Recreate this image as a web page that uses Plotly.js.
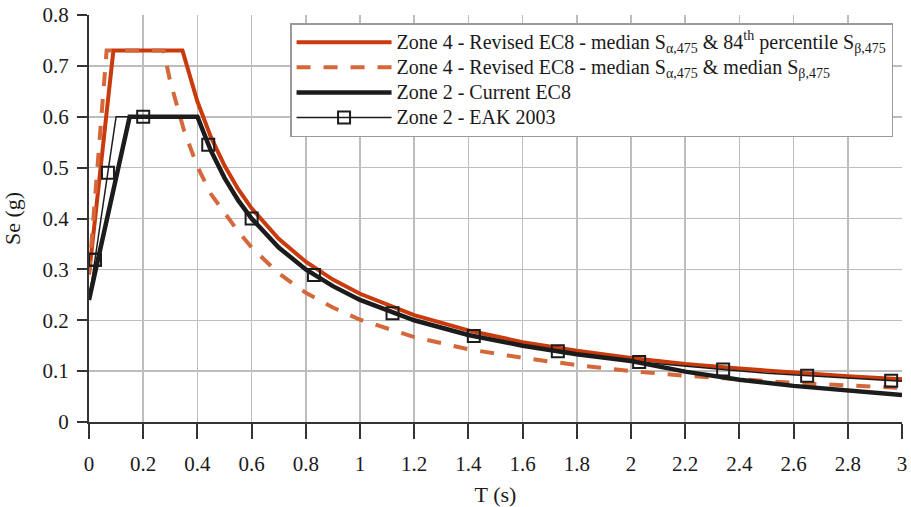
<!DOCTYPE html>
<html>
<head>
<meta charset="utf-8">
<script src="https://cdn.plot.ly/plotly-3.0.1.min.js"></script>
<style>html,body{margin:0;padding:0;background:#fff;}#chart{width:911px;height:507px;}</style>
</head>
<body>
<div id="chart"></div>
<script>
// Zone 4 - Revised EC8 - median S_a & 84th percentile S_b
const redT  = [0, 0.09, 0.345, 0.4, 0.45, 0.5, 0.55, 0.6, 0.7, 0.8, 0.9, 1.0, 1.2, 1.4, 1.6, 1.8, 2.0, 2.2, 2.4, 2.6, 2.8, 3.0];
const redSe = [0.29, 0.73, 0.73, 0.63, 0.56, 0.504, 0.458, 0.42, 0.36, 0.315, 0.28, 0.252, 0.21, 0.18, 0.157, 0.14, 0.126, 0.114, 0.105, 0.097, 0.09, 0.084];
// Zone 4 - Revised EC8 - median S_a & median S_b
const dashT  = [0, 0.065, 0.275, 0.3, 0.35, 0.4, 0.45, 0.5, 0.55, 0.6, 0.7, 0.8, 0.9, 1.0, 1.2, 1.4, 1.6, 1.8, 2.0, 2.2, 2.4, 2.6, 2.8, 3.0];
const dashSe = [0.29, 0.73, 0.73, 0.669, 0.574, 0.502, 0.448, 0.41, 0.375, 0.343, 0.292, 0.254, 0.225, 0.201, 0.167, 0.143, 0.126, 0.112, 0.1, 0.091, 0.084, 0.077, 0.072, 0.067];
// Zone 2 - Current EC8
const ec8T  = [0, 0.15, 0.4, 0.45, 0.5, 0.55, 0.6, 0.7, 0.8, 0.9, 1.0, 1.2, 1.4, 1.6, 1.8, 2.0, 2.2, 2.4, 2.6, 2.8, 3.0];
const ec8Se = [0.24, 0.6, 0.6, 0.533, 0.48, 0.436, 0.4, 0.343, 0.3, 0.267, 0.24, 0.2, 0.171, 0.15, 0.133, 0.12, 0.099, 0.083, 0.071, 0.061, 0.053];
// Zone 2 - EAK 2003 (curve) and the points that carry a square marker
const eakT  = [0, 0.022, 0.07, 0.1, 0.2, 0.4, 0.44, 0.5, 0.6, 0.7, 0.83, 0.9, 1.0, 1.12, 1.2, 1.42, 1.6, 1.73, 1.8, 2.03, 2.2, 2.34, 2.5, 2.65, 2.8, 2.96, 3.0];
const eakSe = [0.24, 0.319, 0.49, 0.6, 0.6, 0.6, 0.545, 0.48, 0.4, 0.343, 0.289, 0.267, 0.24, 0.214, 0.2, 0.169, 0.15, 0.139, 0.133, 0.118, 0.109, 0.103, 0.096, 0.091, 0.086, 0.081, 0.08];
const eakMarked = [0, 1, 1, 0, 1, 0, 1, 0, 1, 0, 1, 0, 0, 1, 0, 1, 0, 1, 0, 1, 0, 1, 0, 1, 0, 1, 0];

const xTicks = [0, 0.2, 0.4, 0.6, 0.8, 1, 1.2, 1.4, 1.6, 1.8, 2, 2.2, 2.4, 2.6, 2.8, 3];
const yTicks = [0, 0.1, 0.2, 0.3, 0.4, 0.5, 0.6, 0.7, 0.8];

const names = [
  'Zone 4 - Revised EC8 - median S<sub>α,475</sub> &amp; 84<sup>th</sup> percentile S<sub>β,475</sub>',
  'Zone 4 - Revised EC8 - median S<sub>α,475</sub> &amp; median S<sub>β,475</sub>',
  'Zone 2 - Current EC8',
  'Zone 2 - EAK 2003'
];

const FONT = 'Liberation Serif';
const INK = '#1c1c1c';
const CLEAR = 'rgba(0,0,0,0)';
const big = s => '<span style="font-size:20px">' + s + '</span>';

// EAK trace: the first marked point is placed first (separated by a gap) so the legend picks its colour
const firstMarked = eakMarked.indexOf(1);
const eakX = [eakT[firstMarked], null].concat(eakT);
const eakY = [eakSe[firstMarked], null].concat(eakSe);
const eakC = [INK, CLEAR].concat(eakMarked.map(m => m ? INK : CLEAR));

const traces = [
  {x: redT, y: redSe, name: big(names[0]), mode: 'lines', line: {color: '#c93a0c', width: 4}},
  {x: dashT, y: dashSe, name: big(names[1]), mode: 'lines', line: {color: '#d4683a', width: 4, dash: '14px,13px'}},
  {x: ec8T, y: ec8Se, name: big(names[2]), mode: 'lines', line: {color: INK, width: 4.5}},
  {x: eakX, y: eakY, name: big(names[3]), mode: 'lines+markers', connectgaps: false, line: {color: INK, width: 1.5},
   marker: {symbol: 'square-open', size: 12, color: eakC, line: {width: 2}}}
];

const layout = {
  width: 911, height: 507,
  margin: {l: 89, r: 9, t: 15, b: 85},
  paper_bgcolor: '#fff', plot_bgcolor: '#fff',
  font: {family: FONT, size: 20, color: '#1a1a1a'},
  showlegend: true,
  legend: {
    x: 0.989, xanchor: 'right', y: 0.980, yanchor: 'top',
    bgcolor: '#fff', bordercolor: '#9a9a9a', borderwidth: 1.5,
    font: {family: FONT, size: 17, color: '#1a1a1a'},
    itemwidth: 95, tracegroupgap: 0
  },
  xaxis: {
    range: [0, 3], tickvals: xTicks, showgrid: true, gridcolor: '#bdbdbd', gridwidth: 1.5,
    zeroline: false, showline: true, linecolor: '#333', linewidth: 2,
    ticks: 'outside', ticklen: 15, tickwidth: 2, tickcolor: '#333', ticklabelstandoff: 7,
    tickfont: {family: FONT, size: 21}, title: {text: 'T (s)', font: {family: FONT, size: 22}, standoff: 12}
  },
  yaxis: {
    range: [0, 0.8], tickvals: yTicks, showgrid: true, gridcolor: '#bdbdbd', gridwidth: 1.5,
    zeroline: false, showline: true, linecolor: '#333', linewidth: 2,
    ticks: 'outside', ticklen: 10, tickwidth: 2, tickcolor: '#333', ticklabelstandoff: 4,
    tickfont: {family: FONT, size: 21}, title: {text: 'Se (g)', font: {family: FONT, size: 22}, standoff: 16}
  }
};

Plotly.newPlot('chart', traces, layout, {displayModeBar: false, staticPlot: true});
</script>
</body>
</html>
